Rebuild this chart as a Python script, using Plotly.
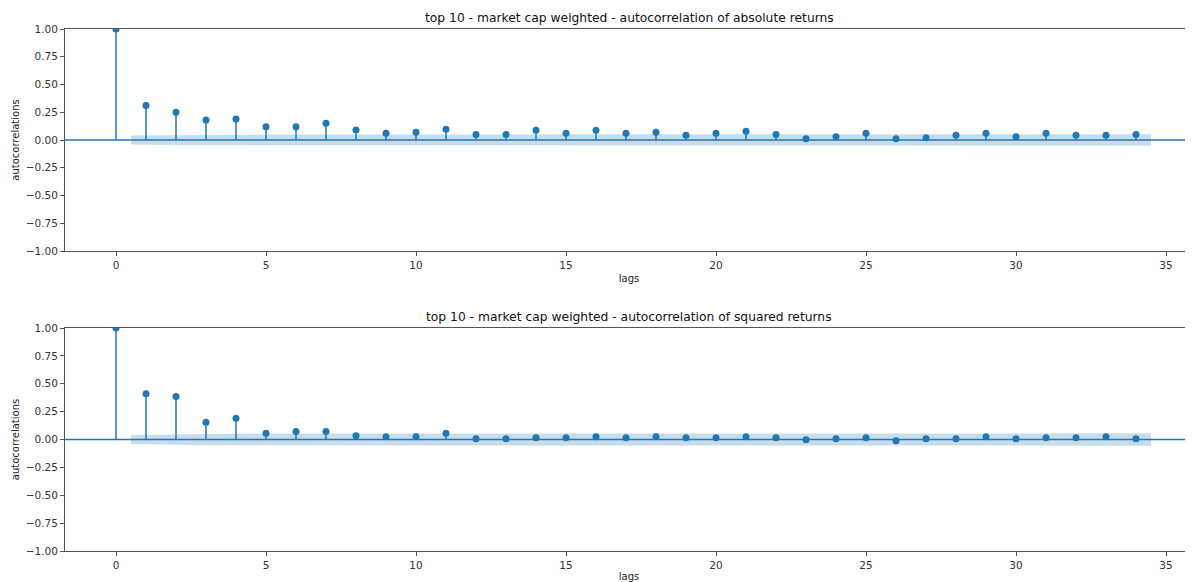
import plotly.graph_objects as go

lags = list(range(35))

acf_abs = [1.0, 0.31, 0.25, 0.18, 0.19, 0.12, 0.12, 0.15, 0.09, 0.06,
           0.07, 0.096, 0.05, 0.05, 0.087, 0.06, 0.087, 0.06, 0.07, 0.042,
           0.06, 0.078, 0.05, 0.012, 0.03, 0.06, 0.012, 0.02, 0.042, 0.06,
           0.03, 0.06, 0.042, 0.042, 0.05]

acf_sq = [1.0, 0.41, 0.385, 0.155, 0.19, 0.057, 0.072, 0.072, 0.033, 0.024,
          0.024, 0.057, 0.006, 0.006, 0.015, 0.015, 0.024, 0.015, 0.024, 0.015,
          0.015, 0.024, 0.015, -0.003, 0.006, 0.015, -0.012, 0.006, 0.006, 0.024,
          0.006, 0.015, 0.015, 0.024, 0.006]

# half-width of the confidence band for lags 1..34
conf_abs = [0.040, 0.044, 0.046, 0.047, 0.048, 0.049, 0.049, 0.050, 0.050, 0.050,
            0.050, 0.051, 0.051, 0.051, 0.051, 0.051, 0.052, 0.052, 0.052, 0.052,
            0.052, 0.052, 0.052, 0.052, 0.052, 0.052, 0.052, 0.052, 0.052, 0.052,
            0.052, 0.052, 0.052, 0.052]
conf_sq = [0.041, 0.047, 0.052, 0.053, 0.054, 0.054, 0.054, 0.055, 0.055, 0.055,
           0.055, 0.055, 0.055, 0.055, 0.055, 0.055, 0.055, 0.055, 0.055, 0.055,
           0.055, 0.055, 0.055, 0.055, 0.055, 0.055, 0.055, 0.055, 0.055, 0.055,
           0.055, 0.055, 0.055, 0.055]

titles = ["top 10 - market cap weighted - autocorrelation of absolute returns",
          "top 10 - market cap weighted - autocorrelation of squared returns"]

C = "#1f77b4"
FONT = "DejaVu Sans"

fig = go.Figure()

panels = [(acf_abs, conf_abs, "x", "y"), (acf_sq, conf_sq, "x2", "y2")]
for vals, conf, xa, ya in panels:
    # confidence band
    bx = [float(l) for l in lags[1:]]
    bx[0] -= 0.5
    bx[-1] += 0.5
    fig.add_trace(go.Scatter(x=bx + bx[::-1], y=conf + [-c for c in conf[::-1]],
                             fill="toself", fillcolor="rgba(31,119,180,0.25)",
                             line=dict(width=0), mode="lines", hoverinfo="skip",
                             xaxis=xa, yaxis=ya, showlegend=False))
    # stems
    sx, sy = [], []
    for l, v in zip(lags, vals):
        sx += [l, l, None]
        sy += [0, v, None]
    fig.add_trace(go.Scatter(x=sx, y=sy, mode="lines", line=dict(color=C, width=1.5),
                             xaxis=xa, yaxis=ya, showlegend=False))
    # markers
    fig.add_trace(go.Scatter(x=lags, y=vals, mode="markers",
                             marker=dict(color=C, size=7),
                             xaxis=xa, yaxis=ya, showlegend=False))

xr = [-1.7, 35.9]
axis_common = dict(showgrid=False, zeroline=False, showline=True, linecolor="#555",
                   linewidth=1, ticks="outside", ticklen=4, tickcolor="#555",
                   automargin=False,
                   tickfont=dict(family=FONT, size=10.5, color="#333"))

# the page adds an 8px body margin, so the figure is sized to fit inside the window
layout = dict(
    width=1185, height=574,
    margin=dict(l=57, r=0, t=21, b=31),
    plot_bgcolor="white", paper_bgcolor="white",
    font=dict(family=FONT, color="#222"),
)
fig.update_layout(**layout)

ttl = dict(family=FONT, size=10, color="#222")
fig.update_layout(
    xaxis=dict(domain=[0, 1], anchor="y", range=xr, tickvals=list(range(0, 36, 5)),
               mirror=True, **axis_common,
               title=dict(text="lags", font=ttl, standoff=5)),
    yaxis=dict(domain=[0.5747, 1], anchor="x", range=[-1, 1],
               tickvals=[-1, -0.75, -0.5, -0.25, 0, 0.25, 0.5, 0.75, 1], tickformat=".2f",
               **axis_common,
               title=dict(text="autocorrelations", font=ttl, standoff=4)),
    xaxis2=dict(domain=[0, 1], anchor="y2", range=xr, tickvals=list(range(0, 36, 5)),
                mirror=True, **axis_common,
                title=dict(text="lags", font=ttl, standoff=5)),
    yaxis2=dict(domain=[0, 0.4272], anchor="x2", range=[-1, 1],
                tickvals=[-1, -0.75, -0.5, -0.25, 0, 0.25, 0.5, 0.75, 1], tickformat=".2f",
                **axis_common,
                title=dict(text="autocorrelations", font=ttl, standoff=4)),
)

# zero lines across each panel
for ya in ["y", "y2"]:
    fig.add_shape(type="line", xref="paper", yref=ya, x0=0, x1=1, y0=0, y1=0,
                  line=dict(color=C, width=1.5), layer="above")

# panel titles
fig.add_annotation(text=titles[0], xref="paper", yref="paper", x=0.5, y=1,
                   yshift=2, yanchor="bottom", showarrow=False,
                   font=dict(family=FONT, size=12.3, color="#111"))
fig.add_annotation(text=titles[1], xref="paper", yref="paper", x=0.5, y=0.4272,
                   yshift=2, yanchor="bottom", showarrow=False,
                   font=dict(family=FONT, size=12.3, color="#111"))

fig.write_html("out.html")
